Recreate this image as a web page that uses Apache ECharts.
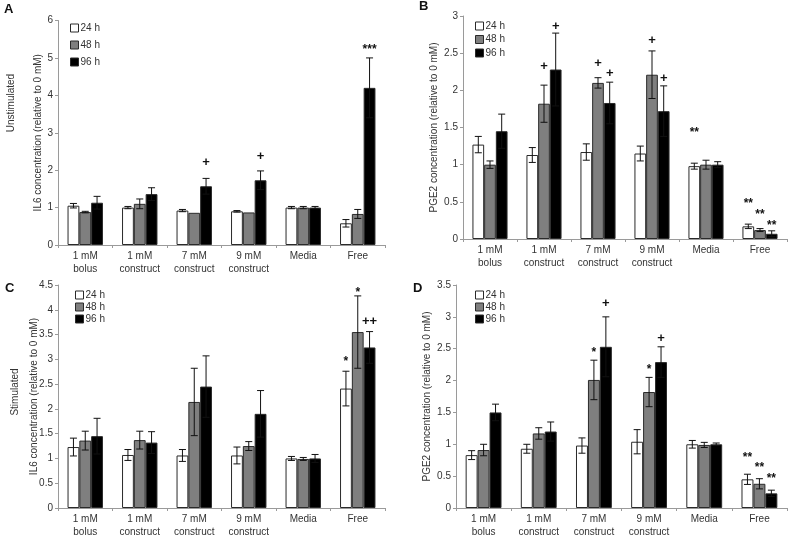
<!DOCTYPE html>
<html>
<head>
<meta charset="utf-8">
<script src="https://cdn.jsdelivr.net/npm/echarts@6/dist/echarts.min.js"></script>
<style>
html,body{margin:0;padding:0;background:#fff;}
#c{width:790px;height:539px;}
</style>
</head>
<body>
<div id="c"></div>
<script>
// ---------- data ----------
const categories = ['1 mM\nbolus', '1 mM\nconstruct', '7 mM\nconstruct', '9 mM\nconstruct', 'Media', 'Free'];
const seriesNames = ['24 h', '48 h', '96 h'];

// Panel A: Unstimulated IL6
const A_24 = [1.05, 1.00, 0.92, 0.90, 1.00, 0.58];
const A_48 = [0.88, 1.10, 0.86, 0.87, 1.00, 0.83];
const A_96 = [1.13, 1.36, 1.57, 1.73, 1.00, 4.20];
const A_24err = [0.06, 0.03, 0.03, 0.02, 0.03, 0.10];
const A_48err = [0.02, 0.13, 0.00, 0.00, 0.03, 0.12];
const A_96err = [0.17, 0.17, 0.21, 0.25, 0.03, 0.80];
const A_ann = [[2, 2, 2.22, '+'], [3, 2, 2.36, '+'], [5, 2, 5.29, '***']];

// Panel B: Unstimulated PGE2
const B_24 = [1.27, 1.13, 1.17, 1.15, 0.98, 0.17];
const B_48 = [1.00, 1.82, 2.10, 2.21, 1.00, 0.12];
const B_96 = [1.45, 2.28, 1.83, 1.72, 1.00, 0.07];
const B_24err = [0.11, 0.10, 0.11, 0.10, 0.04, 0.03];
const B_48err = [0.05, 0.25, 0.07, 0.32, 0.06, 0.02];
const B_96err = [0.23, 0.49, 0.28, 0.34, 0.04, 0.04];
const B_ann = [[1, 1, 2.32, '+'], [1, 2, 2.86, '+'], [2, 1, 2.36, '+'], [2, 2, 2.23, '+'],
               [3, 1, 2.67, '+'], [3, 2, 2.16, '+'], [4, 0, 1.47, '**'],
               [5, 0, 0.51, '**'], [5, 1, 0.37, '**'], [5, 2, 0.22, '**']];

// Panel C: Stimulated IL6
const C_24 = [1.23, 1.07, 1.06, 1.06, 1.00, 2.41];
const C_48 = [1.36, 1.37, 2.14, 1.25, 0.99, 3.55];
const C_96 = [1.45, 1.32, 2.45, 1.90, 1.00, 3.24];
const C_24err = [0.18, 0.11, 0.12, 0.17, 0.04, 0.35];
const C_48err = [0.19, 0.18, 0.68, 0.09, 0.03, 0.73];
const C_96err = [0.36, 0.22, 0.62, 0.47, 0.08, 0.32];
const C_ann = [[5, 0, 3.01, '*'], [5, 1, 4.40, '*'], [5, 2, 3.77, '++']];

// Panel D: Stimulated PGE2
const D_24 = [0.83, 0.93, 0.98, 1.04, 1.00, 0.45];
const D_48 = [0.91, 1.17, 2.01, 1.82, 0.99, 0.38];
const D_96 = [1.50, 1.20, 2.53, 2.29, 1.00, 0.23];
const D_24err = [0.07, 0.07, 0.12, 0.19, 0.06, 0.08];
const D_48err = [0.09, 0.09, 0.31, 0.23, 0.04, 0.08];
const D_96err = [0.13, 0.15, 0.47, 0.24, 0.02, 0.05];
const D_ann = [[2, 1, 2.48, '*'], [2, 2, 3.21, '+'], [3, 1, 2.22, '*'], [3, 2, 2.66, '+'],
               [5, 0, 0.84, '**'], [5, 1, 0.68, '**'], [5, 2, 0.50, '**']];

// ---------- layout / style ----------
const FONT = 'Liberation Sans, Arial, sans-serif';
const TXT = '#333';
const AXC = '#9a9a9a';
const CAT_GAP = 0.35;
const barColors = ['#ffffff', '#7f7f7f', '#000000'];

const panels = [
  {vals: [A_24, A_48, A_96], errs: [A_24err, A_48err, A_96err], ann: A_ann,
   grid: {left: 58, top: 20.5, right: 405, bottom: 294}, max: 6, interval: 1,
   name: 'IL6 concentration (relative to 0 mM)', nameGap: 15,
   legend: {left: 65, top: 18, itemGap: 7}},
  {vals: [B_24, B_48, B_96], errs: [B_24err, B_48err, B_96err], ann: B_ann,
   grid: {left: 463, top: 16, right: 3, bottom: 300}, max: 3, interval: 0.5,
   name: 'PGE2 concentration (relative to 0 mM)', nameGap: 24,
   legend: {left: 470, top: 16, itemGap: 3.5}},
  {vals: [C_24, C_48, C_96], errs: [C_24err, C_48err, C_96err], ann: C_ann,
   grid: {left: 58, top: 285, right: 405, bottom: 27}, max: 4.5, interval: 0.5,
   name: 'IL6 concentration (relative to 0 mM)', nameGap: 19,
   legend: {left: 70, top: 285, itemGap: 2}},
  {vals: [D_24, D_48, D_96], errs: [D_24err, D_48err, D_96err], ann: D_ann,
   grid: {left: 456, top: 285, right: 3, bottom: 31}, max: 3.5, interval: 0.5,
   name: 'PGE2 concentration (relative to 0 mM)', nameGap: 24,
   legend: {left: 470, top: 285, itemGap: 2}}
];

const grids = [], xAxes = [], yAxes = [], series = [], legends = [];

panels.forEach((p, gi) => {
  grids.push(Object.assign({containLabel: false}, p.grid));
  xAxes.push({
    type: 'category', gridIndex: gi, data: categories,
    axisLine: {lineStyle: {color: AXC, width: 1}},
    axisTick: {show: true, length: 3, lineStyle: {color: AXC}},
    axisLabel: {interval: 0, color: TXT, fontFamily: FONT, fontSize: 10, lineHeight: 13, margin: 5}
  });
  yAxes.push({
    type: 'value', gridIndex: gi, min: 0, max: p.max, interval: p.interval,
    name: p.name, nameLocation: 'middle', nameGap: p.nameGap, nameRotate: 90,
    nameMoveOverlap: false,
    nameTextStyle: {color: TXT, fontFamily: FONT, fontSize: 10},
    axisLine: {show: true, lineStyle: {color: AXC, width: 1}},
    axisTick: {show: true, length: 3, lineStyle: {color: AXC}},
    axisLabel: {color: TXT, fontFamily: FONT, fontSize: 10, margin: 5},
    splitLine: {show: false}
  });
  seriesNames.forEach((sn, si) => {
    series.push({
      type: 'bar', name: sn, xAxisIndex: gi, yAxisIndex: gi,
      data: p.vals[si], barGap: '0%', barCategoryGap: (CAT_GAP * 100) + '%',
      itemStyle: {color: barColors[si], borderColor: '#2a2a2a', borderWidth: 1},
      emphasis: {disabled: true}, animation: false, z: 2
    });
  });
  // error bars
  const errData = [];
  seriesNames.forEach((sn, si) => {
    p.vals[si].forEach((v, ci) => errData.push([ci, si, v, p.errs[si][ci]]));
  });
  series.push({
    type: 'custom', xAxisIndex: gi, yAxisIndex: gi, z: 5, animation: false, silent: true,
    data: errData, encode: {x: 0, y: 2},
    renderItem: function (params, api) {
      const ci = api.value(0), si = api.value(1), v = api.value(2), e = api.value(3);
      if (!(e > 0)) return null;
      const band = api.size([1, 0])[0];
      const bw = band * (1 - CAT_GAP) / 3;
      const x = api.coord([ci, v])[0] + (si - 1) * bw;
      const yt = api.coord([ci, v + e])[1];
      const yb = api.coord([ci, Math.max(0, v - e)])[1];
      const h = 3.5;
      const st = {stroke: '#111', lineWidth: 1};
      return {type: 'group', children: [
        {type: 'line', shape: {x1: x, y1: yt, x2: x, y2: yb}, style: st},
        {type: 'line', shape: {x1: x - h, y1: yt, x2: x + h, y2: yt}, style: st},
        {type: 'line', shape: {x1: x - h, y1: yb, x2: x + h, y2: yb}, style: st}
      ]};
    }
  });
  // annotations
  const ann = p.ann;
  series.push({
    type: 'custom', xAxisIndex: gi, yAxisIndex: gi, z: 6, animation: false, silent: true,
    data: ann.map(a => [a[0], a[1], a[2]]), encode: {x: 0, y: 2},
    renderItem: function (params, api) {
      const ci = api.value(0), si = api.value(1), v = api.value(2);
      const band = api.size([1, 0])[0];
      const bw = band * (1 - CAT_GAP) / 3;
      const pt = api.coord([ci, v]);
      const txt = ann[params.dataIndex][3];
      const isPlus = txt.indexOf('+') >= 0;
      return {type: 'text', x: pt[0] + (si - 1) * bw, y: pt[1] + (isPlus ? 0 : 3),
        style: {text: txt, textAlign: 'center', textVerticalAlign: 'middle',
          font: (isPlus ? 'bold 13px ' : 'bold 12px ') + FONT, fill: '#111'}};
    }
  });
  legends.push({
    orient: 'vertical', left: p.legend.left, top: p.legend.top, itemGap: p.legend.itemGap,
    itemWidth: 8, itemHeight: 8, icon: 'rect', selectedMode: false,
    data: seriesNames.map((n, si) => ({name: n,
      itemStyle: {color: barColors[si], borderColor: '#2a2a2a', borderWidth: 1}})),
    textStyle: {color: TXT, fontFamily: FONT, fontSize: 10, padding: [0, 0, 0, -3]},
    itemStyle: {borderColor: '#2a2a2a', borderWidth: 1}
  });
});

const chart = echarts.init(document.getElementById('c'), null, {renderer: 'canvas'});
chart.setOption({
  backgroundColor: '#fff',
  animation: false,
  grid: grids, xAxis: xAxes, yAxis: yAxes, series: series, legend: legends,
  graphic: [
    {type: 'text', left: 4, top: 3, style: {text: 'A', font: 'bold 13px ' + FONT, fill: '#111'}},
    {type: 'text', left: 419, top: 0, style: {text: 'B', font: 'bold 13px ' + FONT, fill: '#111'}},
    {type: 'text', left: 5, top: 282, style: {text: 'C', font: 'bold 13px ' + FONT, fill: '#111'}},
    {type: 'text', left: 413, top: 282, style: {text: 'D', font: 'bold 13px ' + FONT, fill: '#111'}},
    {type: 'text', x: 11, y: 103, rotation: Math.PI / 2,
     style: {text: 'Unstimulated', textAlign: 'center', textVerticalAlign: 'middle', font: '10px ' + FONT, fill: TXT}},
    {type: 'text', x: 15, y: 392, rotation: Math.PI / 2,
     style: {text: 'Stimulated', textAlign: 'center', textVerticalAlign: 'middle', font: '10px ' + FONT, fill: TXT}}
  ]
});
</script>
</body>
</html>
